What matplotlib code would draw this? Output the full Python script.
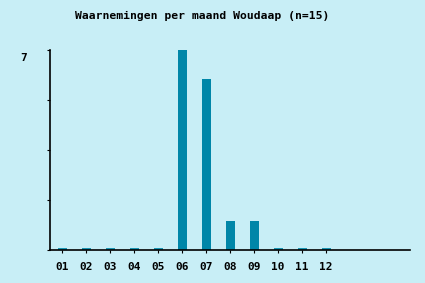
import matplotlib
matplotlib.use("Agg")
import matplotlib.pyplot as plt
import matplotlib.transforms as mtransforms

months = ["01", "02", "03", "04", "05", "06", "07", "08", "09", "10", "11", "12"]
counts = [0, 0, 0, 0, 0, 7, 6, 1, 1, 0, 0, 0]
title = "Waarnemingen per maand Woudaap (n=15)"

bg = "#c8eef6"
bar_col = "#0086a8"

fig = plt.figure(figsize=(4.25, 2.83), dpi=100, facecolor=bg)
ax = fig.add_axes([50 / 425, 33 / 283, 360 / 425, 200 / 283], facecolor=bg)

x = list(range(len(months)))
# zero months still get a thin sliver on the baseline
heights = [c if c > 0 else 0.08 for c in counts]
cols = [bar_col if c > 0 else "#1a96b4" for c in counts]
ax.bar(x, heights, width=0.375, color=cols, linewidth=0)

ax.set_xlim(-0.5, 14.5)
ax.set_ylim(0, 7)
ax.set_xticks(x)
ax.set_xticklabels(months, fontfamily="DejaVu Sans Mono", fontweight="bold", fontsize=8)
ax.set_yticks([0, 1.75, 3.5, 5.25, 7])
ax.set_yticklabels(["", "", "", "", "7"], fontfamily="DejaVu Sans Mono",
                   fontweight="bold", fontsize=8, va="center")
ax.tick_params(axis="x", length=2.5, width=0.8, pad=6, color="black")
ax.tick_params(axis="y", length=2.5, width=0.8, pad=14, color="black")

# shift the "7" a few pixels down, like the original
shift = mtransforms.ScaledTranslation(0, -6 / 72, fig.dpi_scale_trans)
for lab in ax.get_yticklabels():
    lab.set_transform(lab.get_transform() + shift)

for s in ["top", "right"]:
    ax.spines[s].set_visible(False)
for s in ["left", "bottom"]:
    ax.spines[s].set_linewidth(1.2)
    ax.spines[s].set_color("black")

fig.text(202 / 425, 1 - 16 / 283, title, ha="center", va="center",
         fontfamily="DejaVu Sans Mono", fontweight="bold", fontsize=8.2)

fig.savefig("out.png", dpi=100, facecolor=bg)
